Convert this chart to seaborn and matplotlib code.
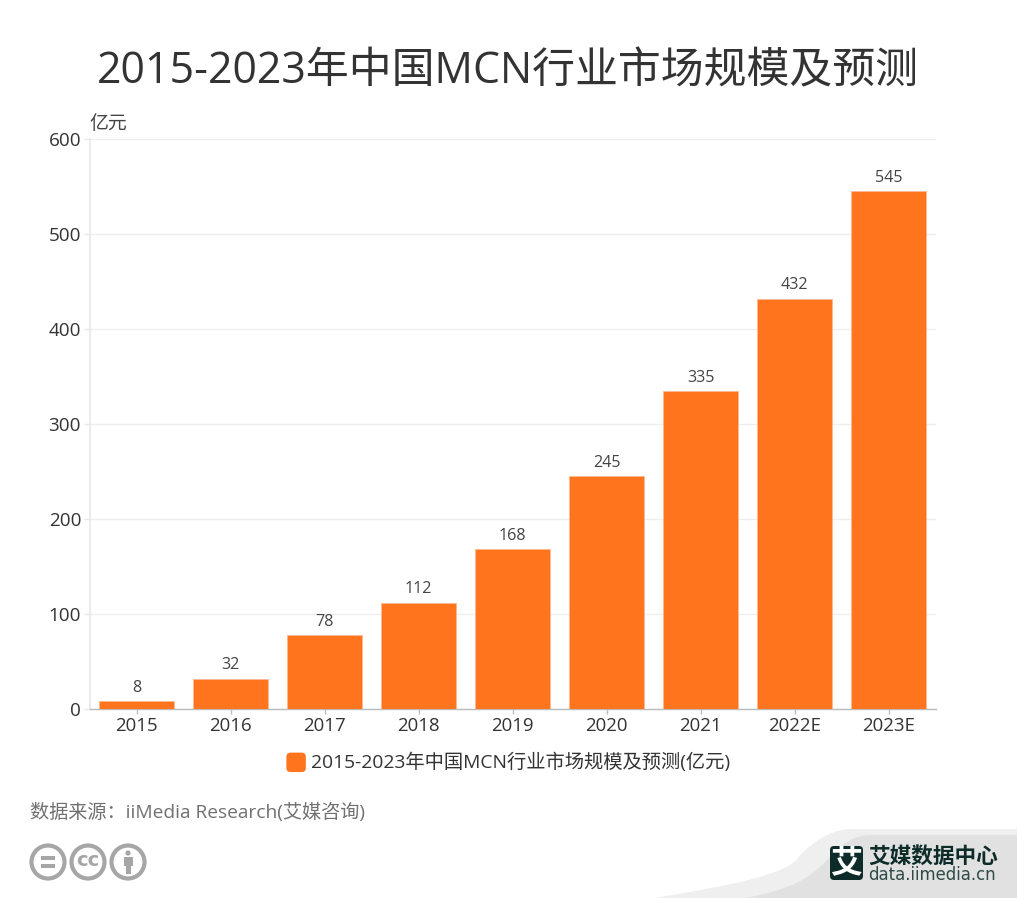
import matplotlib
matplotlib.use("Agg")
import matplotlib.pyplot as plt
import pandas as pd
import seaborn as sns
from matplotlib.legend_handler import HandlerPatch
from matplotlib.patches import Circle, FancyBboxPatch, PathPatch, Patch, Rectangle
from matplotlib.path import Path

years = ["2015", "2016", "2017", "2018", "2019", "2020", "2021", "2022E", "2023E"]
market_size = [8, 32, 78, 112, 168, 245, 335, 432, 545]
y_ticks = [0, 100, 200, 300, 400, 500, 600]

title = "2015-2023年中国MCN行业市场规模及预测"
legend_label = "2015-2023年中国MCN行业市场规模及预测(亿元)"
source = "数据来源：iiMedia Research(艾媒咨询)"

sns.set_theme(style="white")
plt.rcParams["font.family"] = ["Open Sans", "Noto Sans CJK SC", "DejaVu Sans"]

W, H = 1017, 898
ORANGE = "#ff741c"
TEXT = "#333333"


class RoundHandler(HandlerPatch):
    def create_artists(self, legend, orig_handle, xdescent, ydescent, width, height, fontsize, trans):
        size = 14
        box = FancyBboxPatch((0, height / 2 - size / 2 - 1), size, size,
                             boxstyle="round,pad=0,rounding_size=3",
                             fc=ORANGE, ec="none", transform=trans)
        return [box]


fig = plt.figure(figsize=(W / 100, H / 100), dpi=100, facecolor="white")
ax = fig.add_axes([89.5 / W, 1 - 709 / H, 846 / W, (709 - 139) / H])

df = pd.DataFrame({"year": years, "size": market_size})
sns.barplot(data=df, x="year", y="size", color=ORANGE, saturation=1, width=0.8,
            edgecolor="#fbb892", linewidth=0.6, ax=ax, zorder=3)

ax.set_xlim(-0.5, len(years) - 0.5)
ax.set_ylim(0, 600)
ax.set_yticks(y_ticks)
ax.set_xlabel("")
ax.set_ylabel("")
ax.grid(axis="y", color="#eeeeee", linewidth=1, zorder=0)
ax.set_axisbelow(True)
sns.despine(ax=ax, top=True, right=True)
ax.spines["left"].set_color("#e8e8e8")
ax.spines["left"].set_linewidth(1.2)
ax.spines["bottom"].set_color("#bbbbbb")
ax.spines["bottom"].set_linewidth(1)
ax.tick_params(axis="y", length=4, width=1, color="#e8e8e8", labelsize=13.6, labelcolor=TEXT, pad=2, left=True)
ax.tick_params(axis="x", length=3.6, width=1, color="#bbbbbb", labelsize=13.4, labelcolor=TEXT, pad=2, bottom=True)

ax.bar_label(ax.containers[0], labels=[str(v) for v in market_size], padding=3.7,
             fontsize=11.6, color="#444444")

ax.legend(handles=[Patch(label=legend_label)], handler_map={Patch: RoundHandler()},
          loc="center", bbox_to_anchor=(508.5 / W, 1 - 762 / H), bbox_transform=fig.transFigure,
          frameon=False, fontsize=13.9, handlelength=1.0, handletextpad=0.3, labelcolor=TEXT)

fig.text(508 / W, 1 - 72 / H, title, ha="center", va="center", fontsize=30.9, color=TEXT)
fig.text(89 / W, 1 - 124 / H, "亿元", ha="left", va="center", fontsize=13.6, color="#444444")
fig.text(30 / W, 1 - 812 / H, source, ha="left", va="center", fontsize=13.8, color="#707070")

# footer decorations in pixel coordinates
deco = fig.add_axes([0, 0, 1, 1], zorder=-1)
deco.set_xlim(0, W)
deco.set_ylim(H, 0)
deco.axis("off")

over = fig.add_axes([0, 0, 1, 1], zorder=5)
over.set_xlim(0, W)
over.set_ylim(H, 0)
over.axis("off")
over.patch.set_alpha(0)


def swoosh(start, c1, c2, corner, color):
    verts = [(start, 898), (c1[0], c1[1]), (c2[0], c2[1]), (c2[2], c2[3]),
             (c2[4], c2[5]), (c2[6], c2[7]), corner, (1017, corner[1]), (1017, 898), (start, 898)]
    codes = [Path.MOVETO, Path.CURVE4, Path.CURVE4, Path.CURVE4, Path.CURVE4, Path.CURVE4,
             Path.CURVE4, Path.LINETO, Path.LINETO, Path.CLOSEPOLY]
    deco.add_patch(PathPatch(Path(verts, codes), fc=color, ec="none"))


swoosh(655, (730, 885), (790, 875, 800, 855, 806, 850, 825, 829), (852, 829), "#efefef")
swoosh(745, (790, 890), (810, 878, 825, 862, 830, 858, 845, 835), (870, 835), "#e1e1e1")

# licence badges
for cx in [48, 88, 128]:
    over.add_patch(Circle((cx, 862), 16.5, fc="white", ec="#a6a6a6", lw=3))
over.add_patch(Rectangle((41, 856), 14, 3.5, fc="#a6a6a6", ec="none"))
over.add_patch(Rectangle((41, 864), 14, 3.5, fc="#a6a6a6", ec="none"))
over.text(88, 861, "cc", ha="center", va="center", fontsize=14, color="#a6a6a6",
          fontweight="bold", family="DejaVu Sans")
over.add_patch(Circle((128, 853), 2.6, fc="#a6a6a6", ec="none"))
over.add_patch(Rectangle((123.5, 857), 9, 9, fc="#a6a6a6", ec="none"))
over.add_patch(Rectangle((125.5, 866), 5, 8, fc="#a6a6a6", ec="none"))

# logo
over.add_patch(FancyBboxPatch((830, 846), 33, 34, boxstyle="round,pad=0,rounding_size=4",
                              fc="#0d2b28", ec="none"))
over.text(846.5, 863, "艾", ha="center", va="center", fontsize=23, color="white",
          fontweight="bold", family="Noto Sans CJK SC")
over.text(868, 856, "艾媒数据中心", ha="left", va="center", fontsize=15.6, color="#0d2b28",
          fontweight="bold", family="Noto Sans CJK SC")
over.text(868, 875, "data.iimedia.cn", ha="left", va="center", fontsize=11.9, color="#2d4a47",
          family="DejaVu Sans")

fig.savefig("out.png", dpi=100, facecolor="white")
